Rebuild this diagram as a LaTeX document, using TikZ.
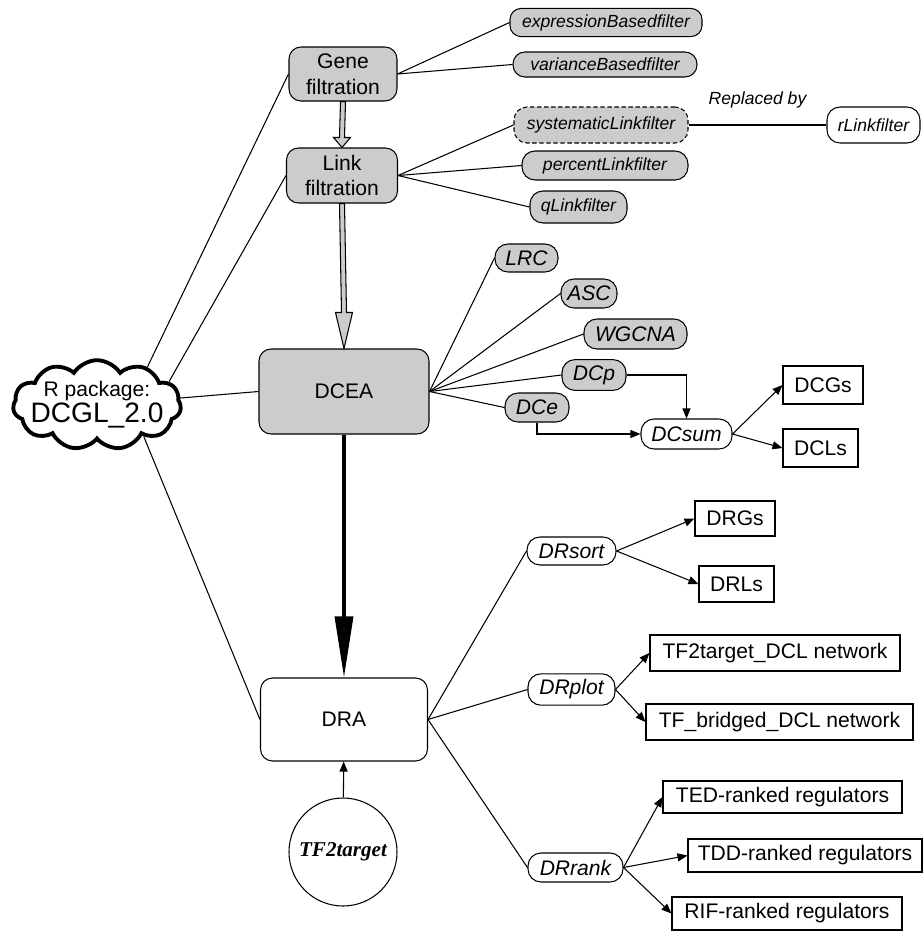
\documentclass[tikz,border=0pt]{standalone}
\usepackage{fontspec}
\setmainfont{Liberation Sans}
\newfontfamily\tfserif{Liberation Serif}
\usetikzlibrary{arrows.meta,shapes.symbols,calc}
\newlength\px
\setlength\px{0.02cm}
\tikzset{
  conn/.style={line width=0.6pt},
  arr/.style={line width=0.6pt, -{Triangle[length=0.2cm,width=0.16cm]}},
  stepbox/.style={draw, line width=0.6pt, rounded corners=12\px, align=center, font=\fontsize{12}{14.5}\selectfont},
  graybox/.style={stepbox, fill=gray!40},
  func/.style={draw, line width=0.6pt, fill=white, rounded corners=13\px, inner xsep=0pt, font=\fontsize{12}{14}\selectfont\itshape},
  method/.style={func, fill=gray!40},
  filt/.style={method, font=\fontsize{10}{12}\selectfont\itshape},
  result/.style={draw, line width=0.6pt, inner xsep=0pt, font=\fontsize{12}{14}\selectfont},
}
\newcommand{\hollowarrow}[3]{%
  \draw[line width=0.6pt, fill=gray!40]
    ($(#1)+(-2.5,0)$) -- ($(#2)+(-2.5,-#3)$) -- ($(#2)+(-8.5,-#3)$) -- (#2)
    -- ($(#2)+(8.5,-#3)$) -- ($(#2)+(2.5,-#3)$) -- ($(#1)+(2.5,0)$) -- cycle;}
\begin{document}
\begin{tikzpicture}[x=1\px, y=-1\px]
\useasboundingbox (0,0) rectangle (924,931);

\node[cloud, draw, line width=2.2pt, cloud puffs=11, cloud puff arc=115, aspect=1.85,
  minimum width=168\px, minimum height=88\px, inner xsep=-11pt, inner ysep=-7pt, align=center] (pkg) at (97,405)
  {\fontsize{12}{14}\selectfont R package:\\\fontsize{16}{18}\selectfont DCGL\_2.0};

\node[graybox, minimum width=108\px, minimum height=54\px] (genef) at (343,74) {Gene\\filtration};
\node[graybox, minimum width=111\px, minimum height=55\px] (linkf) at (342,175.5) {Link\\filtration};
\node[graybox, minimum width=170\px, minimum height=85\px] (dcea) at (344,391.5) {DCEA};
\node[stepbox, minimum width=167\px, minimum height=83\px] (dra) at (344,719.5) {DRA};
\node[draw, circle, line width=0.6pt, minimum size=108\px, font=\tfserif\bfseries\itshape\fontsize{12}{14}\selectfont] (tf) at (343,852) {TF2target};

\node[filt, minimum width=192\px, minimum height=23\px, rounded corners=11\px] (exprf) at (606,22.5) {expressionBasedfilter};
\node[filt, minimum width=184\px, minimum height=25\px, rounded corners=12\px] (varf) at (605,64.5) {varianceBasedfilter};
\node[filt, dash pattern=on 2.5pt off 1.5pt, minimum width=174\px, minimum height=36\px] (sysf) at (601,125) {systematicLinkfilter};
\node[filt, minimum width=166\px, minimum height=29\px] (pctf) at (605,165.5) {percentLinkfilter};
\node[filt, minimum width=97\px, minimum height=32\px] (qf) at (578.5,207) {qLinkfilter};
\node[filt, fill=white, minimum width=93\px, minimum height=36\px] (rf) at (873.5,125) {rLinkfilter};

\node[method, minimum width=63\px, minimum height=28\px] (lrc) at (526.5,258) {LRC};
\node[method, minimum width=56\px, minimum height=29\px] (asc) at (589,293.5) {ASC};
\node[method, minimum width=103\px, minimum height=30\px] (wgcna) at (635.5,334) {WGCNA};
\node[method, minimum width=64\px, minimum height=30\px] (dcp) at (594,375) {DCp};
\node[method, minimum width=64\px, minimum height=29\px] (dce) at (537,407.5) {DCe};
\node[func, minimum width=91\px, minimum height=30\px] (dcsum) at (686.5,434) {DCsum};
\node[result, minimum width=80\px, minimum height=38\px] (dcgs) at (823,385) {DCGs};
\node[result, minimum width=75\px, minimum height=38\px] (dcls) at (820.5,448) {DCLs};

\node[func, minimum width=89\px, minimum height=28\px] (drsort) at (571.5,551) {DRsort};
\node[func, minimum width=87\px, minimum height=27\px] (drplot) at (571.5,689.5) {DRplot};
\node[func, minimum width=95\px, minimum height=29\px] (drrank) at (575.5,867.5) {DRrank};
\node[result, minimum width=80\px, minimum height=35\px] (drgs) at (735,518.5) {DRGs};
\node[result, minimum width=75\px, minimum height=36\px] (drls) at (736.5,584) {DRLs};
\node[result, minimum width=250\px, minimum height=36\px] (tfnet) at (775,653) {TF2target\_DCL network};
\node[result, minimum width=267\px, minimum height=36\px] (bridnet) at (779.5,722) {TF\_bridged\_DCL network};
\node[result, minimum width=239\px, minimum height=32\px] (ted) at (782.5,797) {TED-ranked regulators};
\node[result, minimum width=234\px, minimum height=33\px] (tdd) at (805,855.5) {TDD-ranked regulators};
\node[result, minimum width=230\px, minimum height=33\px] (rif) at (787,913.5) {RIF-ranked regulators};

\draw[conn] (pkg.37) -- (genef.west);
\draw[conn] (pkg.18) -- (linkf.west);
\draw[conn] (pkg) -- (dcea.west);
\draw[conn] (pkg.-34) -- (dra.west);

\draw[conn] (genef.east) -- (exprf.west);
\draw[conn] (genef.east) -- (varf.west);
\draw[conn] (linkf.east) -- (sysf.west);
\draw[conn] (linkf.east) -- (pctf.west);
\draw[conn] (linkf.east) -- (qf.west);
\draw[conn] (sysf.east) -- node[midway, yshift=25\px, font=\fontsize{10}{12}\selectfont\itshape] {Replaced by} (rf.west);

\hollowarrow{genef.south}{linkf.north}{10}
\hollowarrow{linkf.south}{dcea.north}{36}
\draw[line width=3.5\px, -{Triangle[length=1.22cm,width=0.36cm]}] (dcea) -- (dra);
\draw[arr] (tf) -- (dra);

\draw[conn] (dcea.east) -- (lrc.west);
\draw[conn] (dcea.east) -- (asc.west);
\draw[conn] (dcea.east) -- (wgcna.west);
\draw[conn] (dcea.east) -- (dcp.west);
\draw[conn] (dcea.east) -- (dce.west);
\draw[arr] (dcp.east) -| (dcsum.north);
\draw[arr] (dce.south) |- (dcsum.west);
\draw[arr] (dcsum.east) -- (dcgs.west);
\draw[arr] (dcsum.east) -- (dcls.west);

\draw[conn] (dra.east) -- (drsort.west);
\draw[conn] (dra.east) -- (drplot.west);
\draw[conn] (dra.east) -- (drrank.west);
\draw[arr] (drsort.east) -- (drgs.west);
\draw[arr] (drsort.east) -- (drls.west);
\draw[arr] (drplot.east) -- (tfnet.west);
\draw[arr] (drplot.east) -- (bridnet.west);
\draw[arr] (drrank.east) -- (ted.west);
\draw[arr] (drrank.east) -- (tdd.west);
\draw[arr] (drrank.east) -- (rif.west);
\end{tikzpicture}
\end{document}
